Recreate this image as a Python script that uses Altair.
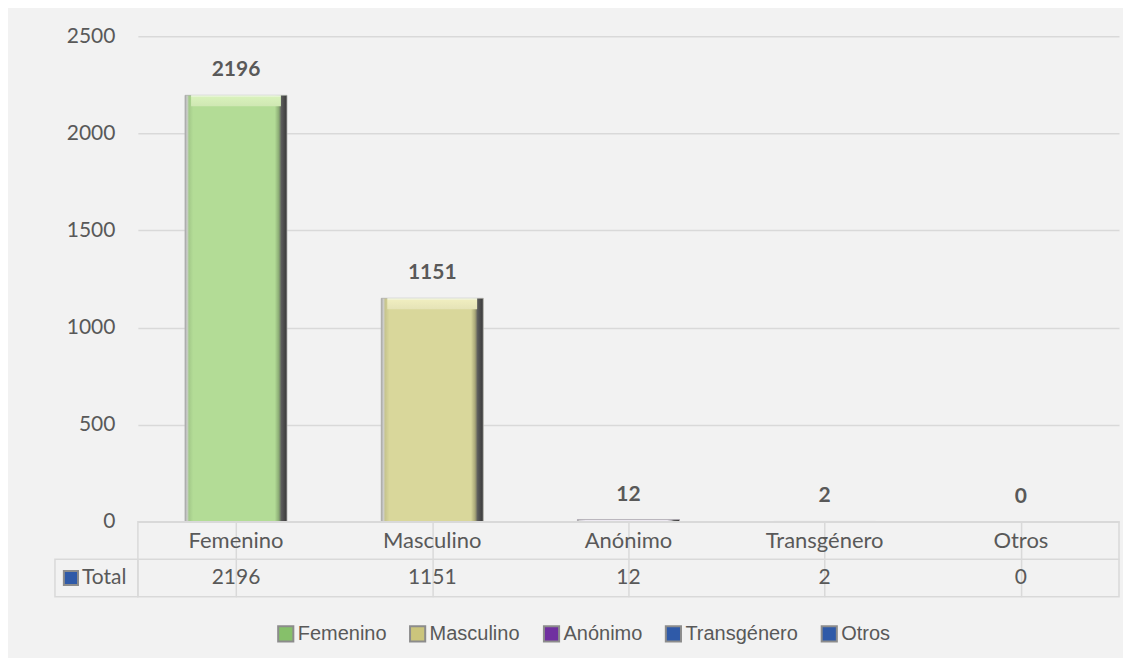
import altair as alt
import pandas as pd

# ---- data -------------------------------------------------------------
categories = ["Femenino", "Masculino", "Anónimo", "Transgénero", "Otros"]
totals = [2196, 1151, 12, 2, 0]
y_ticks = [0, 500, 1000, 1500, 2000, 2500]
row_label = "Total"

# ---- styles -----------------------------------------------------------
legend_colors = ["#86c06a", "#cbc57c", "#7030a0", "#2f5aa8", "#2f5aa8"]
bar_colors = ["#b3dc96", "#d9d79b", "#eeeaf2", "#a9bfe4", "#a9bfe4"]
highlight_colors = ["#d8f1bb", "#efedbf", "#ffffff", "#cddaf2", "#cddaf2"]

FONT = "Lato"
GREY = "#595959"
LINE = "#d9d9d9"


def darken(hex_color, f):
    h = hex_color.lstrip("#")
    r, g, b = (int(h[i:i + 2], 16) for i in (0, 2, 4))
    return "#%02x%02x%02x" % (int(r * f), int(g * f), int(b * f))


df = pd.DataFrame({"cat": categories, "val": totals})

# ---- bar panel --------------------------------------------------------
x_top = alt.X("cat:N", sort=categories, axis=None,
              scale=alt.Scale(domain=categories, paddingInner=0.48, paddingOuter=0.24))
y_top = alt.Y("val:Q",
              scale=alt.Scale(domain=[0, 2500], nice=False),
              axis=alt.Axis(values=y_ticks, format="d", title=None, grid=True,
                            gridColor=LINE, gridWidth=1.5, domain=False, ticks=False,
                            labelFont=FONT, labelFontSize=21, labelColor=GREY,
                            labelPadding=23))

base = alt.Chart(df).encode(x=x_top, y=y_top)

legend_bars = base.mark_bar().encode(
    color=alt.Color(
        "cat:N",
        scale=alt.Scale(domain=categories, range=legend_colors),
        legend=alt.Legend(
            orient="none", legendX=138, legendY=588, direction="horizontal",
            columns=5, title=None, symbolType="square", symbolSize=230,
            symbolStrokeColor="#8c8c8c", symbolStrokeWidth=2,
            labelFont="Liberation Sans", labelFontSize=20,
            labelColor=GREY, columnPadding=19, labelOffset=2,
        ),
    )
)

layers = [legend_bars]
for c, body, hl in zip(categories, bar_colors, highlight_colors):
    hgrad = {
        "gradient": "linear", "x1": 0, "x2": 1, "y1": 0, "y2": 0,
        "stops": [
            {"offset": 0.0, "color": "#9a9a9a"},
            {"offset": 0.02, "color": "#cfcfcf"},
            {"offset": 0.04, "color": darken(body, 0.92)},
            {"offset": 0.08, "color": body},
            {"offset": 0.88, "color": body},
            {"offset": 0.92, "color": darken(body, 0.78)},
            {"offset": 0.945, "color": "#5c5c5c"},
            {"offset": 1.0, "color": "#383838"},
        ],
    }
    layers.append(
        base.transform_filter(alt.datum.cat == c)
        .mark_bar(color=hgrad, stroke="#b5b5b5", strokeWidth=0.8)
    )
    vgrad = {
        "gradient": "linear", "x1": 0, "x2": 0, "y1": 0, "y2": 1,
        "stops": [
            {"offset": 0.0, "color": "#f4f9ee"},
            {"offset": 0.2, "color": hl},
            {"offset": 1.0, "color": darken(hl, 0.96)},
        ],
    }
    layers.append(
        base.transform_filter(alt.datum.cat == c)
        .transform_filter("datum.val > 100")
        .mark_bar(color=vgrad, y2Offset=11, width={"band": 0.88})
        .encode(y2="val:Q")
    )

labels = base.mark_text(dy=-25, font=FONT, fontSize=21, fontWeight="bold",
                        color=GREY).encode(text="val:Q")
layers.append(labels)

top = alt.layer(*layers).properties(width=982, height=486)

# ---- data table panel -------------------------------------------------
rows = ["header", row_label]
table_df = pd.DataFrame({
    "cat": categories + categories,
    "row": ["header"] * len(categories) + [row_label] * len(categories),
    "text": categories + [str(v) for v in totals],
})
row_df = pd.DataFrame({"row": [row_label], "label": [row_label]})

x_tab = alt.X("cat:N", sort=categories,
              scale=alt.Scale(domain=categories, paddingInner=0, paddingOuter=0),
              axis=alt.Axis(grid=True, bandPosition=0, gridColor=LINE, gridWidth=1.5,
                            labels=False, ticks=False, domain=False, title=None))
y_scale = alt.Scale(type="band", domain=rows, paddingInner=0, paddingOuter=0)
y_tab = alt.Y("row:N", scale=y_scale,
              axis=alt.Axis(grid=True, bandPosition=0, gridColor=LINE, gridWidth=1.5,
                            labels=False, ticks=False, domain=False, title=None))

cells = alt.Chart(table_df).mark_text(font=FONT, color=GREY).encode(
    x=x_tab, y=y_tab, text="text:N",
    size=alt.Size("row:N", scale=alt.Scale(domain=rows, range=[22, 21]), legend=None))
row_box = alt.Chart(row_df).mark_rect(fillOpacity=0, stroke=LINE, strokeWidth=1.5).encode(
    x=alt.value(-83), x2=alt.value(0), y=alt.Y("row:N", scale=y_scale))
row_icon = alt.Chart(row_df).mark_square(size=200, filled=True, opacity=1,
                                         fill="#2f5aa8", stroke="#8c8c8c",
                                         strokeWidth=2).encode(
    x=alt.value(-67), y=alt.Y("row:N", scale=y_scale))
row_text = alt.Chart(row_df).mark_text(align="left", font=FONT, fontSize=21,
                                       color=GREY).encode(
    x=alt.value(-56), y=alt.Y("row:N", scale=y_scale), text="label:N")

table = alt.layer(cells, row_box, row_icon, row_text).properties(
    width=982, height=75,
    view=alt.ViewBackground(stroke=LINE, strokeWidth=1.5))

chart = (
    alt.vconcat(top, table, spacing=0, bounds="flush")
    .properties(padding={"left": 45, "top": 16, "right": 3, "bottom": 12},
                background="#f2f2f2")
    .configure_view(stroke="transparent")
)

chart.save("out.html", embed_options={"renderer": "svg", "actions": False})
